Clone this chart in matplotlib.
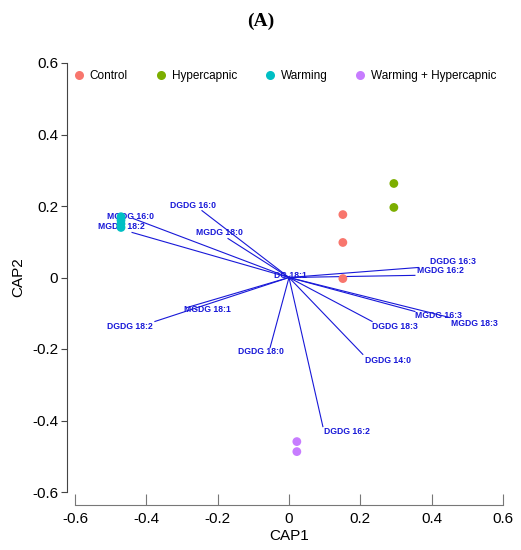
import matplotlib
matplotlib.use('Agg')
import matplotlib.pyplot as plt
from matplotlib.lines import Line2D

plt.rcParams['font.family'] = ['Liberation Sans', 'DejaVu Sans']

# sample scores
groups = ['Control', 'Hypercapnic', 'Warming', 'Warming + Hypercapnic']
colors = ['#F8766D', '#7CAE00', '#00BFC4', '#C77CFF']
cap1 = [[0.151, 0.151, 0.151],
        [0.294, 0.294],
        [-0.471, -0.471, -0.471, -0.471],
        [0.022, 0.022]]
cap2 = [[0.176, 0.098, -0.003],
        [0.263, 0.196],
        [0.170, 0.160, 0.150, 0.140],
        [-0.459, -0.487]]

# lipid vectors
lipids = ['DGDG 16:0', 'MGDG 16:0', 'MGDG 18:2', 'MGDG 18:0', 'DG 18:1',
          'MGDG 18:1', 'DGDG 18:2', 'DGDG 18:0', 'DGDG 16:2', 'DGDG 14:0',
          'DGDG 18:3', 'MGDG 16:3', 'MGDG 18:3', 'DGDG 16:3', 'MGDG 16:2']
vx = [-0.244, -0.437, -0.440, -0.171, 0.003, -0.286, -0.376, -0.053, 0.095,
      0.207, 0.233, 0.353, 0.451, 0.362, 0.353]
vy = [0.187, 0.165, 0.126, 0.109, 0.004, -0.084, -0.123, -0.196, -0.417,
      -0.215, -0.123, -0.095, -0.112, 0.028, 0.006]
# where each label sits (centre)
lx = [-0.270, -0.445, -0.470, -0.196, 0.003, -0.230, -0.445, -0.080, 0.163,
      0.277, 0.297, 0.418, 0.520, 0.460, 0.425]
ly = [0.200, 0.170, 0.143, 0.126, 0.006, -0.090, -0.137, -0.207, -0.430,
      -0.232, -0.137, -0.106, -0.129, 0.045, 0.020]

fig = plt.figure(figsize=(5.21, 5.5), dpi=100)
ax = fig.add_axes([75/521, 1-492/550, 428/521, 429/550])

for x, y in zip(vx, vy):
    ax.plot([0, x], [0, y], color='#1818D8', lw=0.8, zorder=2)
for name, x, y in zip(lipids, lx, ly):
    ax.text(x, y, name, color='#1818D8', fontsize=6.2, fontweight='bold',
            ha='center', va='center', zorder=3)

for g, c, xs, ys in zip(groups, colors, cap1, cap2):
    ax.scatter(xs, ys, s=40, color=c, edgecolors='none', zorder=4)

handles = [Line2D([], [], marker='o', ls='none', color=c, markersize=6.5, markeredgewidth=0)
           for c in colors]
ax.legend(handles, groups, ncol=4, frameon=False, fontsize=8.5,
          loc='upper left', bbox_to_anchor=(-0.015, 0.995),
          handletextpad=0.4, columnspacing=2.3, handlelength=1.0, borderaxespad=0)

ax.set_xlim(-0.6, 0.6)
ax.set_ylim(-0.6, 0.6)
ax.set_xticks([-0.6, -0.4, -0.2, 0, 0.2, 0.4, 0.6])
ax.set_yticks([-0.6, -0.4, -0.2, 0, 0.2, 0.4, 0.6])
ax.set_xticklabels(['-0.6', '-0.4', '-0.2', '0', '0.2', '0.4', '0.6'])
ax.set_yticklabels(['-0.6', '-0.4', '-0.2', '0', '0.2', '0.4', '0.6'])

for s in ['top', 'right']:
    ax.spines[s].set_visible(False)
ax.spines['left'].set_position(('outward', 6))
ax.spines['bottom'].set_position(('outward', 9.5))
ax.spines['left'].set_color('#444444')
ax.spines['bottom'].set_color('#777777')
ax.tick_params(axis='y', direction='out', length=4, color='#444444', labelsize=11, pad=2)
ax.tick_params(axis='x', direction='in', length=8, color='#777777', labelsize=11, pad=5)

ax.set_xlabel('CAP1', fontsize=11, labelpad=2)
ax.set_ylabel('CAP2', fontsize=11, labelpad=5)

fig.text(0.5, 1-21/550, '(A)', ha='center', va='center', fontsize=14,
         fontweight='bold', family='Liberation Serif')

fig.savefig('out.png', dpi=100)
